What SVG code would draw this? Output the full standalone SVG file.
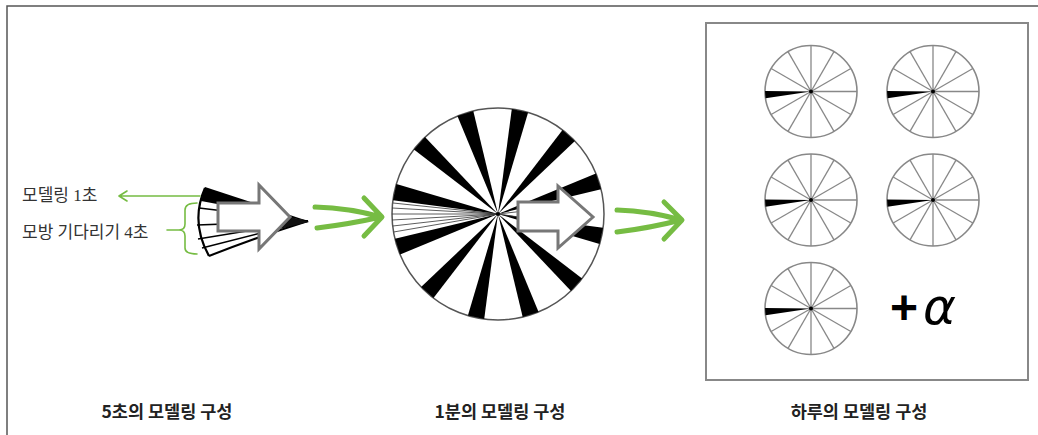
<svg xmlns="http://www.w3.org/2000/svg" xmlns:xlink="http://www.w3.org/1999/xlink" width="1038" height="435" viewBox="0 0 1038 435">
<style>
.lbl{font-family:"Noto Sans CJK KR","Liberation Sans",sans-serif;font-size:17.5px;font-weight:bold;fill:#222;text-anchor:middle}
.note{font-family:"Liberation Serif","Noto Sans CJK KR",serif;font-size:17px;fill:#333}
.green{stroke:#76bc43;fill:none;stroke-linecap:round;stroke-linejoin:round}
.garrow{fill:#fff;stroke:#777;stroke-width:3;stroke-linejoin:miter}
.wedge{fill:#000}
.thin{stroke:#333;stroke-width:0.8}
</style>
<defs>
<g id="clock">
<circle cx="0" cy="0" r="46" fill="#fff" stroke="#888" stroke-width="1.6"/>
<g stroke="#888" stroke-width="1.3">
<line x1="0" y1="0" x2="46" y2="0"/>
<line x1="0" y1="0" x2="39.84" y2="-23"/>
<line x1="0" y1="0" x2="23" y2="-39.84"/>
<line x1="0" y1="0" x2="0" y2="-46"/>
<line x1="0" y1="0" x2="-23" y2="-39.84"/>
<line x1="0" y1="0" x2="-39.84" y2="-23"/>
<line x1="0" y1="0" x2="-39.84" y2="23"/>
<line x1="0" y1="0" x2="-23" y2="39.84"/>
<line x1="0" y1="0" x2="0" y2="46"/>
<line x1="0" y1="0" x2="23" y2="39.84"/>
<line x1="0" y1="0" x2="39.84" y2="23"/>
</g>
<path d="M0,0 L-46,-0.5 L-45.5,6.8 Z" fill="#000"/>
<circle cx="0" cy="0" r="2" fill="#000"/>
</g>
</defs>

<g id="frame">
<path d="M7,435 L7,6 L1038,6" fill="none" stroke="#555" stroke-width="1.5"/>
<rect x="706" y="23" width="322" height="357" fill="none" stroke="#888" stroke-width="2"/>
</g>

<g id="node-5sec">
<g id="cone">
<path d="M205,188 Q190,222 209,256" fill="none" stroke="#000" stroke-width="2.2"/>
<path d="M205,187 L308,221 L201,201 Z" fill="#000"/>
<path d="M209,256 Q260,236 308,221" fill="none" stroke="#000" stroke-width="2"/>
<g stroke="#000" stroke-width="1.6" fill="none">
<line x1="199" y1="208" x2="308" y2="221"/>
<line x1="197" y1="225" x2="308" y2="221"/>
<line x1="198" y1="239" x2="308" y2="221"/>
<line x1="202" y1="248" x2="308" y2="221"/>
</g>
<path d="M280,214 L309,222 L282,228 Z" fill="#111"/>
</g>
<path class="garrow" d="M218,203 L259,203 L259,185 L290,217 L259,249 L259,231 L218,231 Z"/>
</g>

<g id="node-1min">
<circle cx="498" cy="214" r="106" fill="#fff" stroke="#555" stroke-width="1.5"/>
<g class="wedge">
<path d="M498,214 L601.1,189.3 L595.9,173.4 Z"/>
<path d="M498,214 L574.9,141.0 L562.5,129.9 Z"/>
<path d="M498,214 L528.1,112.4 L511.8,108.9 Z"/>
<path d="M498,214 L473.3,110.9 L457.4,116.1 Z"/>
<path d="M498,214 L425.0,137.1 L413.9,149.5 Z"/>
<path d="M498,214 L396.4,183.9 L392.9,200.2 Z"/>
<path d="M498,214 L394.9,238.7 L400.1,254.6 Z"/>
<path d="M498,214 L421.1,287.0 L433.5,298.1 Z"/>
<path d="M498,214 L467.9,315.6 L484.2,319.1 Z"/>
<path d="M498,214 L522.7,317.1 L538.6,311.9 Z"/>
<path d="M498,214 L571.0,290.9 L582.1,278.5 Z"/>
<path d="M498,214 L599.6,244.1 L603.1,227.8 Z"/>
</g>
<g class="thin">
<line x1="498" y1="214" x2="393" y2="203"/>
<line x1="498" y1="214" x2="392.2" y2="208"/>
<line x1="498" y1="214" x2="392" y2="214"/>
<line x1="498" y1="214" x2="392.2" y2="220"/>
<line x1="498" y1="214" x2="392.8" y2="226"/>
<line x1="498" y1="214" x2="393.6" y2="232"/>
<line x1="498" y1="214" x2="560" y2="207"/>
<line x1="498" y1="214" x2="560" y2="223"/>
</g>
<circle cx="498" cy="214" r="2" fill="#000"/>
<path class="garrow" d="M518,202 L558,202 L558,186 L593,217 L558,248 L558,231 L518,231 Z"/>
</g>

<g id="node-day">
<g id="clock1"><use xlink:href="#clock" href="#clock" x="811" y="91.5"/></g>
<g id="clock2"><use xlink:href="#clock" href="#clock" x="933" y="91.5"/></g>
<g id="clock3"><use xlink:href="#clock" href="#clock" x="811" y="200"/></g>
<g id="clock4"><use xlink:href="#clock" href="#clock" x="933" y="200"/></g>
<g id="clock5"><use xlink:href="#clock" href="#clock" x="811" y="308.5"/></g>
<text x="890" y="324" font-family="'Liberation Sans',sans-serif" font-size="48" font-weight="bold" fill="#000">+<tspan dx="5" font-weight="normal" font-style="italic" font-size="50" font-family="'DejaVu Sans',sans-serif">α</tspan></text>
</g>

<g id="annotations">
<text class="note" x="22" y="201">모델링 1초</text>
<text class="note" x="22" y="238">모방 기다리기 4초</text>
</g>

<g id="connectors">
<path class="green" stroke-width="1.6" d="M200,196 L119,196 M127,191 L119,196 L127,201"/>
<path class="green" stroke-width="1.6" d="M197,203 Q185,203 185,210 L185,224 Q185,230 179,230 Q185,230 185,236 L185,248 Q185,254 197,254 M167,230 L179,230"/>
<path class="green" stroke-width="5" d="M315,207 Q350,208 381,217 M317,228 Q350,224 381,217 M364,198 L382,217 L364,236"/>
<path class="green" stroke-width="5" d="M617,210 Q650,211 681,220 M617,232 Q650,228 681,220 M664,202 L682,220 L664,239"/>
</g>

<g id="labels">
<text class="lbl" x="167" y="418">5초의 모델링 구성</text>
<text class="lbl" x="500" y="418">1분의 모델링 구성</text>
<text class="lbl" x="859" y="418">하루의 모델링 구성</text>
</g>
</svg>
